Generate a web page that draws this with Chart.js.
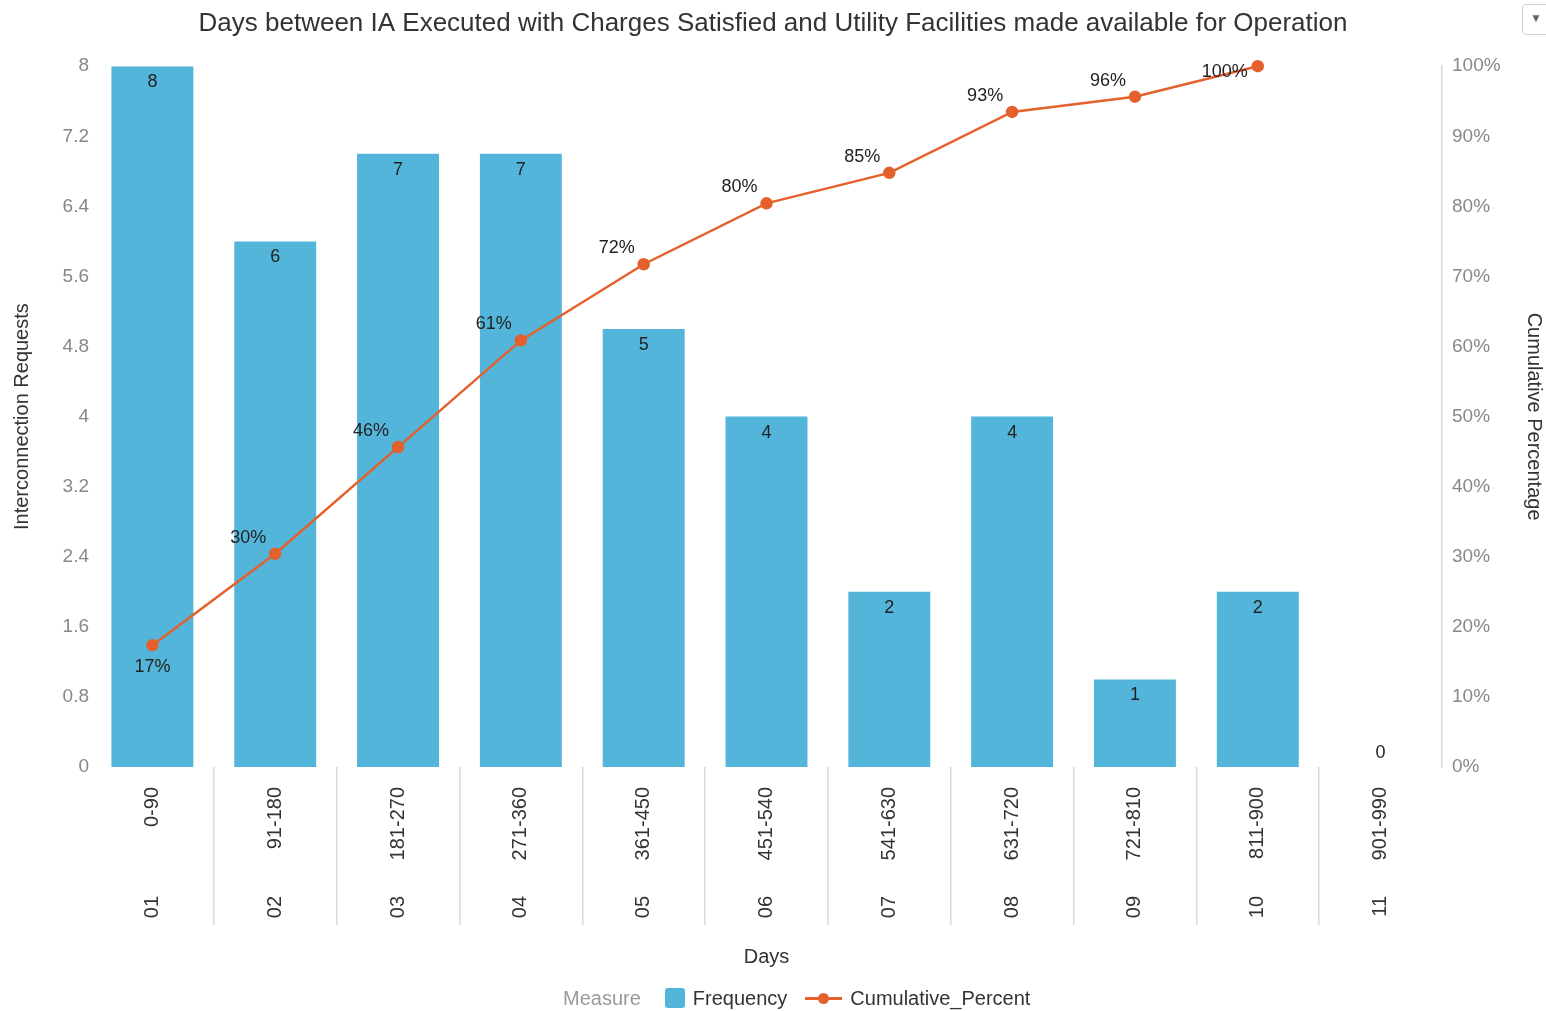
<!DOCTYPE html>
<html>
<head>
<meta charset="utf-8">
<script src="https://cdn.jsdelivr.net/npm/chart.js@4.4.1/dist/chart.umd.min.js"></script>
<style>
body { margin: 0; background: #fff; font-family: "Liberation Sans", Arial, sans-serif; }
#wrap { position: relative; width: 1546px; height: 1011px; }
#legend { position: absolute; left: 563px; top: 985px; height: 26px; display: flex; align-items: center; font-size: 20px; color: #333; }
#legend .name { color: #999; margin-right: 24px; }
#legend .box { width: 20px; height: 20px; border-radius: 3px; background: #53b5d9; margin-right: 8px; }
#legend .line { position: relative; width: 37px; height: 3px; background: #e4602c; margin: 0 8px 0 18px; }
#legend .line::after { content: ""; position: absolute; left: 13px; top: -4px; width: 11px; height: 11px; border-radius: 50%; background: #e4602c; }
#menu { position: absolute; left: 1522px; top: 4px; width: 30px; height: 31px; border: 1px solid #c9d2dc; border-radius: 4px; box-sizing: border-box; color: #666; font-size: 12px; padding: 6px 0 0 7px; }
</style>
</head>
<body>
<div id="wrap">
  <canvas id="chart" width="1546" height="1011"></canvas>
  <div id="legend"></div>
  <div id="menu">&#9660;</div>
</div>
<script>
const dayRanges = ["0-90", "91-180", "181-270", "271-360", "361-450", "451-540", "541-630", "631-720", "721-810", "811-900", "901-990"]
const rangeCodes = ["01", "02", "03", "04", "05", "06", "07", "08", "09", "10", "11"]
const frequency = [8, 6, 7, 7, 5, 4, 2, 4, 1, 2, 0]
const cumulativePercent = [17.39, 30.43, 45.65, 60.87, 71.74, 80.43, 84.78, 93.48, 95.65, 100, null]

const blue = "#53b5d9"
const orange = "#e4602c"
const sepColor = "#d3dce8"

Chart.defaults.font.family = '"Liberation Sans", Arial, sans-serif'

// draws the numbers on bars and points
const valueLabels = {
  id: "valueLabels",
  afterDatasetsDraw(chart) {
    const ctx = chart.ctx
    ctx.save()
    ctx.font = '18px "Liberation Sans", Arial, sans-serif'
    ctx.fillStyle = "#222"
    ctx.textAlign = "center"
    ctx.textBaseline = "middle"
    chart.getDatasetMeta(1).data.forEach((bar, i) => {
      const v = frequency[i]
      ctx.fillText(String(v), bar.x, v === 0 ? bar.y - 14 : bar.y + 16)
    })
    chart.getDatasetMeta(0).data.forEach((pt, i) => {
      const v = cumulativePercent[i]
      if (v == null || pt.skip) return
      let dx = -27, dy = -16
      if (i === 0) { dx = 0; dy = 22 }
      else if (v >= 100) { dx = -33; dy = 6 }
      ctx.fillText(Math.round(v) + "%", pt.x + dx, pt.y + dy)
    })
    ctx.restore()
  }
}

const chartCanvas = document.getElementById("chart")
const myChart = new Chart(chartCanvas, {
  data: {
    labels: dayRanges,
    datasets: [
      {
        type: "line",
        label: "Cumulative_Percent",
        data: cumulativePercent,
        yAxisID: "y1",
        borderColor: orange,
        backgroundColor: orange,
        borderWidth: 2.5,
        pointRadius: 5,
        pointHoverRadius: 5,
        tension: 0,
        clip: false,
        order: 0
      },
      {
        type: "bar",
        label: "Frequency",
        data: frequency,
        yAxisID: "y",
        backgroundColor: blue,
        categoryPercentage: 1,
        barPercentage: 0.667,
        order: 1
      }
    ]
  },
  options: {
    responsive: false,
    animation: false,
    layout: { padding: { left: 0, right: 0, top: 0, bottom: 40 } },
    plugins: {
      legend: { display: false },
      tooltip: { enabled: false },
      title: {
        display: true,
        text: "Days between IA Executed with Charges Satisfied and Utility Facilities made available for Operation",
        color: "#333",
        font: { size: 26, weight: "normal" },
        padding: { top: 8, bottom: 27 }
      }
    },
    scales: {
      x: {
        weight: 0,
        offset: true,
        grid: {
          offset: true,
          drawOnChartArea: false,
          tickLength: 158,
          lineWidth: 1.5,
          color: c => (c.index === undefined || c.index === 0) ? "transparent" : sepColor
        },
        border: { display: false },
        ticks: { autoSkip: false, minRotation: 90, maxRotation: 90, padding: -138, color: "#333", font: { size: 20 } },
        afterFit: s => { s.height = 93 }
      },
      x2: {
        type: "category",
        labels: rangeCodes,
        position: "bottom",
        weight: 1,
        offset: true,
        grid: { display: false, drawTicks: false },
        border: { display: false },
        ticks: { autoSkip: false, minRotation: 90, maxRotation: 90, padding: 36, color: "#333", font: { size: 20 } },
        title: { display: true, text: "Days", color: "#333", font: { size: 20 }, padding: { top: 30, bottom: 2 } },
        afterFit: s => { s.height = 111 }
      },
      y: {
        position: "left",
        min: 0,
        max: 8,
        ticks: { stepSize: 0.8, padding: 2, color: "#888", font: { size: 19 }, callback: v => String(+v.toFixed(1)) },
        grid: { display: false, drawTicks: false },
        border: { display: false },
        title: { display: true, text: "Interconnection Requests", color: "#333", font: { size: 20 }, padding: { top: 10, bottom: 0 } },
        afterFit: s => { s.width = 91 }
      },
      y1: {
        position: "right",
        min: 0,
        max: 100,
        ticks: { stepSize: 10, padding: 10, color: "#888", font: { size: 19 }, callback: v => v + "%" },
        grid: { display: false, drawTicks: false },
        border: { display: true, color: "#cfd9e6", width: 1.5 },
        title: { display: true, text: "Cumulative Percentage", color: "#333", font: { size: 20 }, padding: { top: 0, bottom: 0 } },
        afterFit: s => { s.width = 104 }
      }
    }
  },
  plugins: [valueLabels]
})

// legend as html, built from the datasets
const legend = document.getElementById("legend")
let template = '<span class="name">Measure</span>'
const bars = myChart.data.datasets[1]
const line = myChart.data.datasets[0]
template += `<span class="box"></span><span>${bars.label}</span>`
template += `<span class="line"></span><span>${line.label}</span>`
legend.innerHTML = template
</script>
</body>
</html>
